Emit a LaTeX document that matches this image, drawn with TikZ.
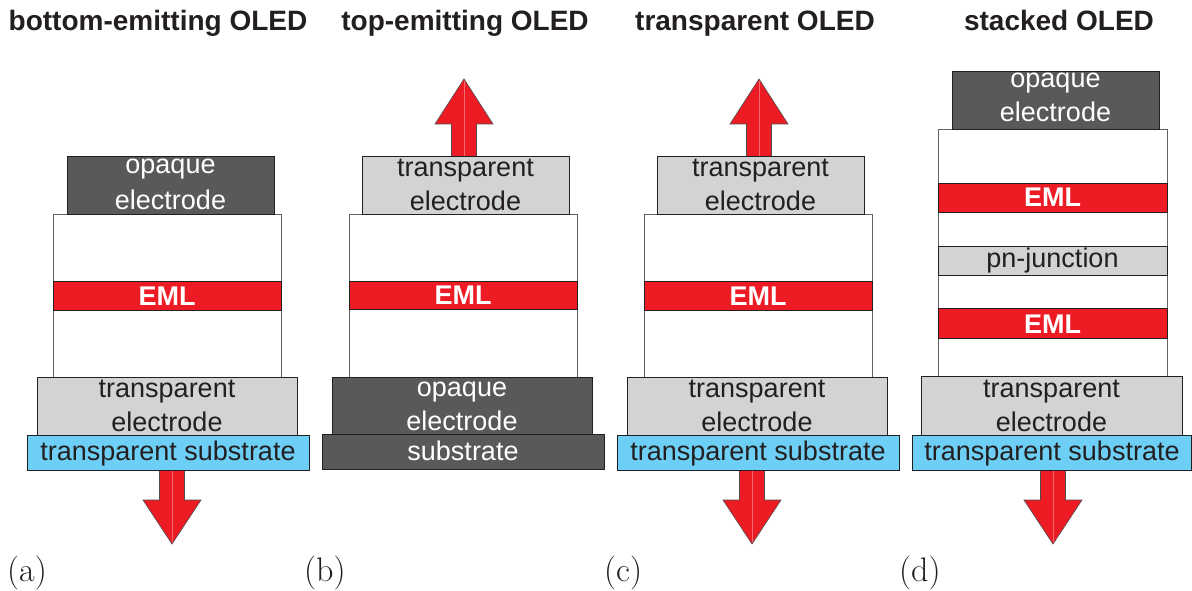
\documentclass[tikz,border=0pt]{standalone}
\usepackage{fontspec}
\newfontfamily\arialf{Liberation Sans}
\definecolor{opq}{HTML}{58595B}
\definecolor{trn}{HTML}{D1D3D4}
\definecolor{sub}{HTML}{6DCFF6}
\definecolor{eml}{HTML}{ED1C24}
\definecolor{ink}{HTML}{231F20}
\definecolor{arrhi}{HTML}{F26A6F}
\tikzset{
  lay/.style={draw=ink,line width=0.9pt},
  opqbox/.style={lay,fill=opq},
  trnbox/.style={lay,fill=trn},
  subbox/.style={lay,fill=sub},
  emlbox/.style={lay,fill=eml},
  orgbox/.style={draw=ink!70,line width=0.9pt,fill=white},
  arr/.style={fill=eml,draw=ink!80,line width=0.6pt,line join=miter},
  arrmid/.style={draw=arrhi,line width=0.8pt},
  txt/.style={inner sep=0pt,anchor=base,font=\arialf\fontsize{27}{32}\selectfont},
  dtxt/.style={txt,text=ink},
  wtxt/.style={txt,text=white},
  emltxt/.style={txt,text=white,font=\arialf\bfseries\fontsize{27}{32}\selectfont},
  ttl/.style={inner sep=0pt,anchor=base,text=ink,font=\arialf\bfseries\fontsize{28}{32}\selectfont},
  lbl/.style={inner sep=0pt,anchor=base west,text=ink,font=\fontsize{34}{40}\selectfont}
}
\newcommand\arrdown[2]{%
  \draw[arr] (#1-12.5,#2) -- (#1-12.5,500) -- (#1-29,500) -- (#1,544) -- (#1+29,500) -- (#1+12.5,500) -- (#1+12.5,#2);
  \draw[arrmid] (#1,#2) -- (#1,542);}
\newcommand\arrup[2]{%
  \draw[arr] (#1-12.5,#2) -- (#1-12.5,124) -- (#1-29,124) -- (#1,79) -- (#1+29,124) -- (#1+12.5,124) -- (#1+12.5,#2);
  \draw[arrmid] (#1,#2) -- (#1,81);}
\begin{document}
\begin{tikzpicture}[x=1pt,y=-1pt]
\useasboundingbox (0,0) rectangle (1192,591);
\fill[white] (0,0) rectangle (1192,591);

% titles
\node[ttl] (ta) at (158,31) {bottom-emitting OLED};
\node[ttl] (tb) at (465,31) {top-emitting OLED};
\node[ttl] (tc) at (755,31) {transparent OLED};
\node[ttl] (td) at (1059,31) {stacked OLED};

% ---------- (a) ----------
\arrdown{172}{469}
\draw[orgbox] (53,214) rectangle (281,377);
\draw[emlbox] (53,281) rectangle (281,310);
\draw[opqbox] (67,156) rectangle (274,214);
\draw[trnbox] (37,377) rectangle (297,435);
\draw[subbox] (27,435) rectangle (309,470);
\node[wtxt] (a-op1) at (170.5,174) {opaque};
\node[wtxt] (a-op2) at (170.5,209) {electrode};
\node[emltxt] (a-eml) at (167,305) {EML};
\node[dtxt] (a-te1) at (167,397) {transparent};
\node[dtxt] (a-te2) at (167,431) {electrode};
\node[dtxt] (a-sub) at (168,460) {transparent substrate};
\node[lbl] (la) at (7,581.5) {(a)};

% ---------- (b) ----------
\arrup{464}{157}
\draw[orgbox] (349,214) rectangle (577,377);
\draw[emlbox] (349,281) rectangle (577,309);
\draw[trnbox] (362,156) rectangle (569,214);
\draw[opqbox] (332,377) rectangle (592,434);
\draw[opqbox] (322,434) rectangle (604,469);
\node[dtxt] (b-te1) at (465.5,176) {transparent};
\node[dtxt] (b-te2) at (465.5,211) {electrode};
\node[emltxt] (b-eml) at (463,304.5) {EML};
\node[wtxt] (b-op1) at (462,396) {opaque};
\node[wtxt] (b-op2) at (462,430) {electrode};
\node[wtxt] (b-sub) at (463,460) {substrate};
\node[lbl] (lb) at (304,581.5) {(b)};

% ---------- (c) ----------
\arrup{759}{157}
\arrdown{752}{469}
\draw[orgbox] (644,214) rectangle (872,377);
\draw[emlbox] (644,281) rectangle (872,310);
\draw[trnbox] (657,156) rectangle (864,214);
\draw[trnbox] (627,377) rectangle (887,435);
\draw[subbox] (617,435) rectangle (899,470);
\node[dtxt] (c-te1) at (760.5,176) {transparent};
\node[dtxt] (c-te2) at (760.5,211) {electrode};
\node[emltxt] (c-eml) at (758,305) {EML};
\node[dtxt] (c-te3) at (757,397) {transparent};
\node[dtxt] (c-te4) at (757,431) {electrode};
\node[dtxt] (c-sub) at (758,460) {transparent substrate};
\node[lbl] (lc) at (604,581.5) {(c)};

% ---------- (d) ----------
\arrdown{1053}{469}
\draw[orgbox] (938,129) rectangle (1167,376);
\draw[emlbox] (938,183) rectangle (1167,212);
\draw[trnbox] (938,246) rectangle (1167,275);
\draw[emlbox] (938,308) rectangle (1167,338);
\draw[opqbox] (952,71) rectangle (1159,129);
\draw[trnbox] (921,376) rectangle (1182,435);
\draw[subbox] (912,435) rectangle (1191.5,470);
\node[wtxt] (d-op1) at (1055.5,88) {opaque};
\node[wtxt] (d-op2) at (1055.5,122) {electrode};
\node[emltxt] (d-eml1) at (1052.5,207) {EML};
\node[dtxt] (d-pn) at (1052.5,267) {pn-junction};
\node[emltxt] (d-eml2) at (1052.5,333) {EML};
\node[dtxt] (d-te1) at (1051.5,397) {transparent};
\node[dtxt] (d-te2) at (1051.5,431) {electrode};
\node[dtxt] (d-sub) at (1052,460) {transparent substrate};
\node[lbl] (ld) at (899,581.5) {(d)};
\end{tikzpicture}
\end{document}
